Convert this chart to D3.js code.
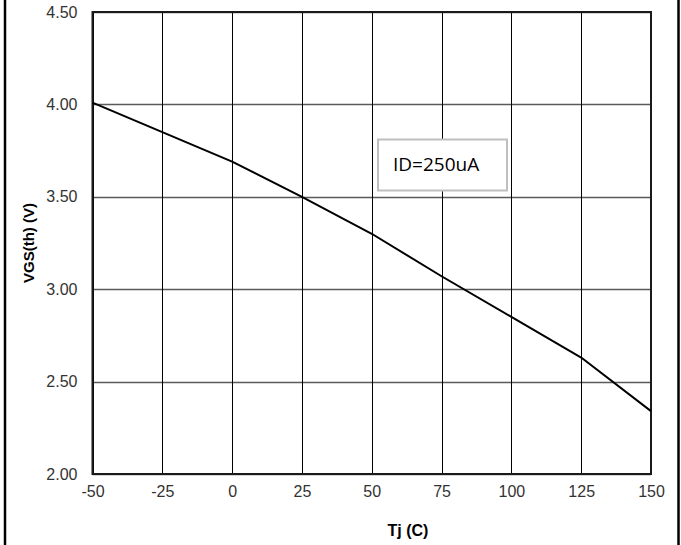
<!DOCTYPE html>
<html>
<head>
<meta charset="utf-8">
<script src="https://cdn.jsdelivr.net/npm/d3@7"></script>
<style>
  html, body { margin: 0; padding: 0; background: #fff; }
  svg { display: block; }
</style>
</head>
<body>
<svg id="chart" width="681" height="545"></svg>
<script>
// Gate threshold voltage vs junction temperature
const temps = [-50, -25, 0, 25, 50, 75, 100, 125, 150];
const vgsTh = [4.01, 3.85, 3.69, 3.50, 3.30, 3.07, 2.85, 2.63, 2.34];
const xTicks = [-50, -25, 0, 25, 50, 75, 100, 125, 150];
const yTicks = [2.00, 2.50, 3.00, 3.50, 4.00, 4.50];
const xTitle = "Tj (C)";
const yTitle = "VGS(th) (V)";
const noteText = "ID=250uA";

const svg = d3.select("#chart");
const W = 681, H = 545;
const plot = { left: 92.5, right: 651, top: 12, bottom: 474 };

const x = d3.scaleLinear().domain([-50, 150]).range([plot.left, plot.right]);
const y = d3.scaleLinear().domain([2, 4.5]).range([plot.bottom, plot.top]);

// outer frame
svg.append("rect")
  .attr("x", 5).attr("y", -10)
  .attr("width", 673.5).attr("height", H + 20)
  .attr("fill", "none").attr("stroke", "#000").attr("stroke-width", 2.5);

// horizontal grid
svg.append("g")
  .selectAll("line").data(yTicks).join("line")
  .attr("x1", plot.left).attr("x2", plot.right)
  .attr("y1", d => Math.round(y(d)) + 0.5).attr("y2", d => Math.round(y(d)) + 0.5)
  .attr("stroke", "#5a5a5a").attr("stroke-width", 1.3);

// vertical grid
svg.append("g")
  .selectAll("line").data(xTicks).join("line")
  .attr("y1", plot.top).attr("y2", plot.bottom)
  .attr("x1", d => Math.round(x(d)) + 0.5).attr("x2", d => Math.round(x(d)) + 0.5)
  .attr("stroke", "#000").attr("stroke-width", 1);

// plot border
svg.append("rect")
  .attr("x", plot.left).attr("y", plot.top)
  .attr("width", plot.right - plot.left).attr("height", plot.bottom - plot.top)
  .attr("fill", "none").attr("stroke", "#1a1a1a").attr("stroke-width", 2);

// tick labels via d3 axes, axis lines hidden
const yAxis = svg.append("g")
  .attr("transform", `translate(${plot.left},0)`)
  .call(d3.axisLeft(y).tickValues(yTicks).tickFormat(d => d.toFixed(2)).tickSize(0).tickPadding(15));
yAxis.select(".domain").remove();
yAxis.selectAll("text")
  .attr("font-family", "Liberation Sans, Arial, sans-serif")
  .attr("font-size", 16).attr("fill", "#333");

const xAxis = svg.append("g")
  .attr("transform", `translate(0,${plot.bottom})`)
  .call(d3.axisBottom(x).tickValues(xTicks).tickFormat(d => String(d)).tickSize(0).tickPadding(12));
xAxis.select(".domain").remove();
xAxis.selectAll("text")
  .attr("font-family", "Liberation Sans, Arial, sans-serif")
  .attr("font-size", 16).attr("fill", "#333");

// data line
svg.append("path")
  .datum(temps.map((t, i) => [t, vgsTh[i]]))
  .attr("fill", "none").attr("stroke", "#000").attr("stroke-width", 2)
  .attr("stroke-linejoin", "round")
  .attr("d", d3.line().x(d => x(d[0])).y(d => y(d[1])));

// note box
svg.append("rect")
  .attr("x", 378).attr("y", 139.5)
  .attr("width", 129).attr("height", 51)
  .attr("fill", "#fff").attr("stroke", "#bfbfbf").attr("stroke-width", 2);
svg.append("text")
  .attr("x", 393).attr("y", 171)
  .attr("font-family", "Open Sans, sans-serif")
  .attr("font-size", 19).attr("fill", "#000")
  .text(noteText);

// axis titles
svg.append("text")
  .attr("x", 408).attr("y", 536)
  .attr("text-anchor", "middle")
  .attr("font-family", "Liberation Sans, Arial, sans-serif")
  .attr("font-weight", "bold").attr("font-size", 16)
  .text(xTitle);

svg.append("text")
  .attr("transform", `translate(34,${(plot.top + plot.bottom) / 2}) rotate(-90)`)
  .attr("text-anchor", "middle")
  .attr("font-family", "Liberation Sans, Arial, sans-serif")
  .attr("font-weight", "bold").attr("font-size", 15)
  .text(yTitle);
</script>
</body>
</html>
